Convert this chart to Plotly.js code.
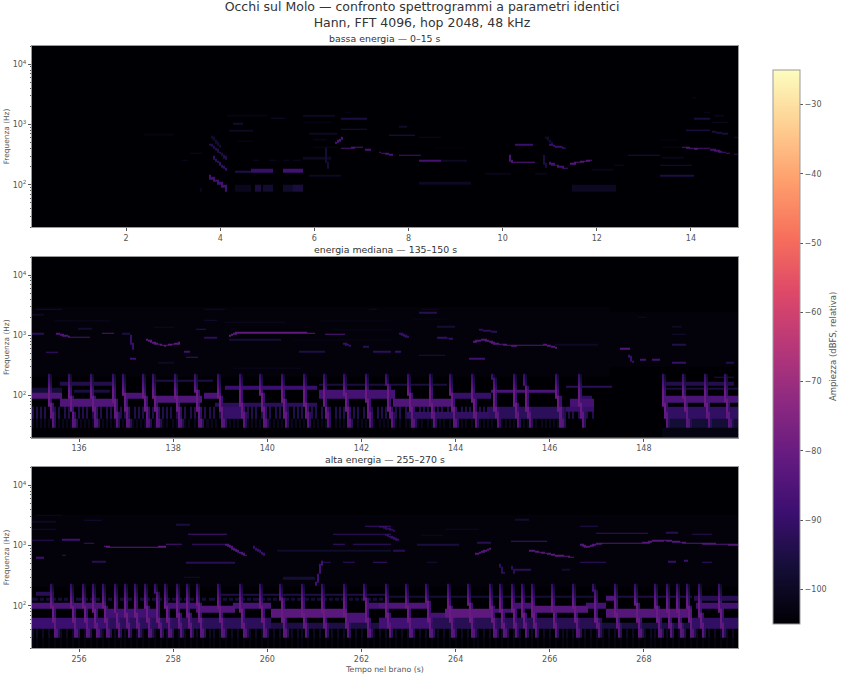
<!DOCTYPE html>
<html><head><meta charset="utf-8">
<script src="https://cdn.plot.ly/plotly-3.0.1.min.js"></script>
<style>html,body{margin:0;padding:0;background:#fff}</style></head>
<body><div id="chart" style="width:842px;height:674px"></div>
<script>
// ---- labels ----
const chartTitle = "Occhi sul Molo — confronto spettrogrammi a parametri identici<br>Hann, FFT 4096, hop 2048, 48 kHz";
const panelTitles = ["bassa energia — 0–15 s", "energia mediana — 135–150 s", "alta energia — 255–270 s"];
const xRanges = [[0,15],[135,150],[255,270]];
const xTicks = [[2,4,6,8,10,12,14],[136,138,140,142,144,146,148],[256,258,260,262,264,266,268]];
const yTickVals = [100,1000,10000];
const yTickText = ["10<sup>2</sup>","10<sup>3</sup>","10<sup>4</sup>"];
const dbTicks = [-100,-90,-80,-70,-60,-50,-40,-30];

// ---- ridges are [dB, t,f, t,f, ...]; bands are [dB, t0, t1, f, f, ...]; washes are [dB, t0, t1, fLow, fHigh] ----
const lowRidges = [
 [-88,3.76,137,4.13,86],[-91,3.85,285,4.13,172],[-94,3.78,475,4.13,268],[-98,3.8,640,4.0,420],
 [-97,6.25,390,6.27,185],
 [-86,6.47,505,6.6,595],[-85,6.6,402,7.03,418],[-86,7.1,385,7.2,385],[-86,7.39,345,7.67,305],[-87,7.81,305,8.24,305],
 [-87,8.24,252,8.67,252],[-100,8.67,252,9.23,252],
 [-86,10.15,305,10.2,230],[-83,10.2,230,10.68,230],[-89,10.3,465,10.65,465],[-89,11.0,465,11.3,408],[-87,11.0,228,11.35,184],
 [-84,11.46,222,11.85,258],[-85,13.84,418,14.12,395],[-86,14.12,405,14.4,405],[-87,14.44,385,14.79,335],[-93,14.93,315,15,315],
 [-96,14.47,760,14.75,695],[-96,10.88,300,10.92,200],[-98,10.95,600,11.05,500]
];
const lowBands = [
 [-94,4.34,4.62,164],[-90,4.66,4.84,164,176],[-90,4.87,5.08,164,176],[-88,5.33,5.72,164,176],
 [-101,4.34,4.62,82,94],[-96,4.74,4.84,82,94],[-98,4.92,5.08,82,94],[-99,5.35,5.5,82,94],[-96,5.58,5.72,82,94],
 [-103,4.16,4.98,1400],[-99,5.08,5.33,1275],[-98,4.27,4.45,1040],[-100,4.2,4.66,790],[-102,4.38,4.66,520],
 [-100,5.76,6.4,1400],[-102,5.76,6.32,1090],[-100,5.9,6.47,695],[-103,5.97,6.25,560],[-102,6,6.47,420],[-100,5.76,6.32,275],[-100,5.9,6.54,141],
 [-100,4.7,4.78,258],[-100,5.05,5.16,258],[-100,5.33,5.45,258],[-100,5.55,5.7,258],
 [-96,6.6,7.1,840],[-95,6.6,7.1,1230],[-102,6.65,6.75,1590],[-94,7.6,8.1,655],[-99,7.8,7.95,915],
 [-100,8.24,8.67,610],[-104,8.6,9.2,410],[-100,8.24,9.3,105],
 [-102,9.66,10.15,152],[-102,10.7,10.95,152],[-100,11.5,12.4,82,94],[-95,12.67,13.3,305],[-100,12.4,12.57,211],[-102,11.93,12.35,176],
 [-95,13.34,14.05,141],[-97,13.34,13.98,211],[-102,13.4,13.84,281],[-102,13.4,13.9,420],[-103,13.34,13.7,550],
 [-93,13.9,14.4,808],[-96,14.1,14.4,1230],[-101,14.3,14.4,1590],[-102,14.5,14.68,1400],[-100,14.47,14.75,1090],[-103,14.02,14.08,2800],[-98,14.93,15,610],
 [-102,2.35,2.5,340],[-103,2.4,3.0,680],[-101,3.2,3.3,260],[-100,3.4,3.6,335],[-101,3.6,3.62,85]
];
const lowWashes = [];
const midRidges = [
 [-85,135.55,1050,135.8,950],[-86,135.8,930,136.22,930],[-85,136.5,1085,136.72,1085],[-92,135,1055,135.23,1055],
 [-83,137.45,840,137.64,720,137.85,675,138.14,740],[-82,139.2,990,139.34,1095,140.33,1105,140.97,1085],
 [-84,141.25,1030,141.64,1030],[-90,141.64,720,141.75,675],
 [-84,144.38,770,144.6,850,144.88,720,145.23,675,145.94,695,146.15,620],
 [-90,142.83,1055,143,930],[-90,143.61,930,143.92,875],[-92,144.53,1235,144.88,1130],
 [-90,147.68,465,147.75,360],[-90,137.1,1000,137.15,600]
];
const midBands = [
 [-88,135.34,135.52,520],[-88,137.1,137.2,406],[-88,138.24,138.35,525],[-88,138.3,138.5,423],[-92,138.5,138.67,1250],[-98,138.7,138.9,1780],[-92,138.7,138.9,905],
 [-98,136.0,136.25,1270],[-95,136.95,137.05,1050],[-95,140.7,141.18,525],[-97,139.2,140.26,840],[-100,139.1,140.33,1640],[-101,139.27,140.7,280],
 [-98,135.1,135.6,2740],[-100,135,135.23,2200],[-102,135.5,136.65,1750],[-100,137.64,138,1360],[-99,138.7,139.05,2740],[-99,142.2,142.3,2740],
 [-92,142.25,142.6,525],[-92,142.05,142.15,640],[-100,137.7,138,345],[-103,140.55,142.6,840],[-103,141.1,142.6,1750],[-103,141.4,142.6,1230],
 [-93,143.25,143.6,2350],[-100,143.3,143.65,2740],[-102,143.1,143.8,1860],[-97,143.64,143.99,1390],
 [-100,146.15,147,695],[-84,147.5,147.68,600],[-87,147.92,148.03,393],[-87,148.2,148.33,393],[-90,148.6,148.85,350],[-94,149.77,149.9,350],
 [-94,148.6,148.85,695],[-98,148.6,148.85,1030],[-100,148.6,148.8,1390],[-88,144.31,144.6,408],[-95,143.25,143.75,465],[-92,142.47,142.6,525],[-90,142.74,142.8,525],[-100,147.9,148,2000],
 // bass bands
 [-85,135,135.6,94,105],[-85,135.6,136.72,70,82],[-94,135.6,136.72,152,164],[-96,135.9,136.65,117],[-97,135,135.6,117,129],
 [-86,137,137.4,94,105],[-85,137.64,138.6,82,94],[-86,138.7,139,94,105],[-89,139.13,141.05,129,141],[-92,138.92,141.05,70],[-95,137.65,138.8,176],
 [-87,141.1,142.7,94,105,117],[-96,141.1,143.8,152],[-85,142.7,143.9,70,82],[-90,144,144.75,94,105],[-86,144.8,146.15,117],
 [-92,146.37,147.3,141],[-87,146.45,146.9,70,82],[-92,146.6,146.85,94],[-90,146.37,146.9,58],
 [-86,148.46,150,82,94],[-94,148.4,149.9,152,164],[-94,149.5,149.9,199],[-96,148.4,150,129],
 [-94,135,146.9,47,58],[-101,135,146.2,35],[-91,148.5,150,47,58],[-97,148.5,150,35],[-103,148.4,150,23],
 [-90,139.1,139.5,47,58],[-91,143,144.7,47],[-92,144.7,146.2,47,58]
];
const midWashes = [[-104,135,147.3,200,3000],[-104,147.3,150,300,2500]];
const midKicks = [135.35,135.79,136.26,136.72,136.95,137.37,137.58,138.05,138.49,138.95,139.40,139.85,140.30,140.76,141.18,141.64,142.09,142.54,143.0,143.45,143.9,144.35,144.8,145.23,145.48,146.15,146.6,148.39,148.83,149.28,149.72];
const highRidges = [
 [-82,256.56,980,256.65,930,257.85,940],[-85,259.13,1045,259.27,885,259.52,690],[-90,259.7,940,259.94,690],
 [-88,261.04,220,261.15,535],[-92,262.4,2070,262.68,1780],[-90,262.54,1480,262.76,1250],
 [-84,264.45,725,264.74,880],[-84,265.59,830,266.01,725],[-83,266.05,705,266.47,640],
 [-84,266.65,1030,266.8,940,267.0,1070,268.07,1110,268.2,1200,268.49,1213,268.92,1093,270,1030],
 [-92,264.95,480,265.02,350],[-92,265.2,450,265.26,350]
];
const highBands = [
 [-92,255,255.45,1215],[-88,255.66,256,1250],[-88,256.12,256.3,1100],[-86,257.89,258.17,1045],[-88,258.42,259.13,1045],[-86,258.35,259.13,1550],
 [-88,261.4,261.64,1045],[-90,261.82,262.6,1050],[-91,261.43,262.6,1550],[-89,262.1,262.6,2070],[-88,255.1,255.23,620],[-90,255.65,255.7,690],
 [-93,256.3,256.55,535],[-93,258.3,259.27,515],[-92,261.15,261.33,520],[-91,261.61,261.86,520],[-88,262.25,262.54,520],[-97,260.33,261,285],
 [-100,255.1,255.6,3150],[-100,255,255.5,2500],[-98,255,255.5,1850],[-98,256.15,256.45,2600],[-96,258.07,258.35,2200],[-99,260.2,262.6,830],[-98,258.25,258.55,290],
 [-93,262.7,262.9,830],[-96,263.2,264.05,1030],[-93,264.5,264.74,1110],[-87,265.2,265.94,1180],[-90,267,268.07,1600],[-93,268.49,268.7,1620],[-93,269.06,269.41,1550],
 [-94,266.65,267,2070],[-98,265.3,265.55,2700],[-92,265.23,265.6,388],[-90,266.65,267.15,520],[-90,268.55,268.65,540],[-88,268.87,268.92,565],[-90,269.24,269.41,520],
 [-98,266.25,266.4,390],[-100,263.3,263.7,1480],[-97,263.4,263.6,520],[-100,263.8,264.5,1840],
 // bass bands
 [-86,255,256.54,94,105],[-88,256.6,257.6,70,82],[-87,257.85,258.5,94,105],[-85,258.5,259.27,82,94],[-86,259.27,260.05,94,105],[-83,260.08,261.68,70,82],[-86,261.7,262.1,58,70],[-87,262.1,262.6,94,105],
 [-85,262.4,263.4,94,105],[-87,263.4,263.82,70],[-82,263.82,264.74,70,82],[-87,264.74,265.2,82],[-87,265.2,265.66,94,105],[-84,265.66,266.8,82,94],[-87,266.8,267.15,94,105],[-85,267.2,267.35,129,141],[-84,267.2,269,70,82],[-87,269.13,270,94,105],
 [-89,255,256.55,47,58],[-92,256.55,260.05,47,58],[-95,260.08,262.6,47],[-88,262.4,263.45,47,58],[-93,263.45,267.1,47,58],[-96,267.1,269,47],[-91,269.1,270,47,58],
 [-100,255,270,35],[-103,255,270,23],
 [-93,255.1,255.45,152,164],[-95,259,262.5,152],[-97,255,262.5,129],[-97,262.5,267,141],[-95,267.35,269,141],[-93,269.1,270,129,141]
];
const highWashes = [[-104,255,270,200,3200]];
const highKicks = [255.41,255.84,256.09,256.30,256.52,256.76,256.97,257.18,257.41,257.64,257.84,258.07,258.29,258.53,258.95,259.41,259.84,260.28,260.72,261.15,261.61,262.07,262.51,262.95,263.39,263.85,264.28,264.74,264.95,265.2,265.41,265.62,266.05,266.49,266.93,267.36,267.82,268.24,268.48,268.7,268.92,269.16,269.59];
// shape of one kick, as seen in the crops: seconds after onset, Hz, dB
const kickOffsets = [0,0.005,0.04,0.11];
const kickFreqs = [220,110,65,33];
const kickLevels = [-91,-80,-80,-85];
const floorDb = -105;

// ---- grid ----
const hop = 2048/48000, binHz = 48000/4096;
const centres = [];
for (let f = binHz; f < 21000; ) { centres.push(f); f = Math.max(f+binHz, f*1.015); }
const edges = [centres[0]/2];
for (let i=0;i<centres.length-1;i++) edges.push((centres[i]+centres[i+1])/2);
edges.push(centres[centres.length-1]*1.01);
const logC = centres.map(Math.log10);
function nearestRow(f){ const l=Math.log10(f); let b=0,d=1e9; for(let i=0;i<logC.length;i++){const e=Math.abs(logC[i]-l); if(e<d){d=e;b=i;}} return b; }

function build(range, ridges, bands, washes, kicks){
  const n = Math.round((range[1]-range[0])/hop);
  const xs = []; for(let i=0;i<=n;i++) xs.push(range[0]+i*(range[1]-range[0])/n);
  const z = centres.map(()=>new Array(n).fill(floorDb));
  const dt=(range[1]-range[0])/n;
  const set=(r,c,db)=>{ if(r>=0&&r<z.length&&c>=0&&c<n&&z[r][c]<db) z[r][c]=db; };
  const put=(t,f,db,kick)=>{ const c=Math.floor((t-range[0])/dt); const r=nearestRow(f); set(r,c,db);
    if(f>150&&!kick){ const l=Math.log10(f); for(let k=r-4;k<=r+4;k++){ if(k>=0&&k<z.length&&Math.abs(logC[k]-l)<0.013) set(k,c,db); } }
    if(kick){ set(r,c+1,db-9); } };
  const seg=(t0,f0,t1,f1,d0,d1,kick)=>{ const s=120; for(let i=0;i<=s;i++){const u=i/s; put(t0+(t1-t0)*u, Math.pow(10,Math.log10(f0)+(Math.log10(f1)-Math.log10(f0))*u), d0+(d1-d0)*u, kick);} };
  washes.forEach(w=>{ const c0=Math.floor((w[1]-range[0])/dt), c1=Math.floor((w[2]-range[0])/dt); centres.forEach((f,r)=>{ if(f>=w[3]&&f<=w[4]) for(let c=c0;c<c1;c++) set(r,c,w[0]); }); });
  bands.forEach(b=>{ const [db,t0,t1,...fs]=b; fs.forEach(f=>seg(t0,f,t1,f,db,db)); });
  ridges.forEach(r=>{ for(let i=1;i+3<r.length;i+=2) seg(r[i],r[i+1],r[i+2],r[i+3],r[0],r[0]); });
  kicks.forEach(t=>{ for(let i=0;i+1<kickOffsets.length;i++) seg(t+kickOffsets[i],kickFreqs[i],t+kickOffsets[i+1],kickFreqs[i+1],kickLevels[i],kickLevels[i+1],true); });
  return {xs,z};
}

const magma=[[0,"#000004"],[0.1,"#140e36"],[0.2,"#3b0f70"],[0.3,"#641a80"],[0.4,"#8c2981"],[0.5,"#b73779"],[0.6,"#de4968"],[0.7,"#f7705c"],[0.8,"#fe9f6d"],[0.9,"#fecf92"],[1,"#fcfdbf"]];
const W=842,H=674, ink="#555", edge="#999", face="DejaVu Sans, sans-serif", tickPx=8;
const panelsPx=[[46,227],[257,437.5],[467,648]];
const datasets=[[lowRidges,lowBands,lowWashes,[]],[midRidges,midBands,midWashes,midKicks],[highRidges,highBands,highWashes,highKicks]];
const minorY=[]; [10,100,1000,10000].forEach(d=>[2,3,4,5,6,7,8,9].forEach(m=>{const v=d*m; if(v>=20&&v<=20000) minorY.push(v);}));

const traces=[]; const layout={
  width:W,height:H,margin:{l:0,r:0,t:0,b:0},paper_bgcolor:"#fff",plot_bgcolor:"#000004",showlegend:false,
  font:{family:face,color:ink,size:tickPx},
  title:{text:chartTitle,x:422/W,xanchor:"center",yref:"paper",y:1-11/H,yanchor:"bottom",font:{family:face,size:12.5,color:"#333"}},
  coloraxis:{cmin:-105,cmax:-25,colorscale:magma,colorbar:{
    x:773/W,xanchor:"left",y:1-70/H,yanchor:"top",len:554/H,lenmode:"fraction",thickness:27,thicknessmode:"pixels",
    xpad:0,ypad:0,outlinecolor:edge,outlinewidth:1,tickmode:"array",tickvals:dbTicks,ticks:"outside",ticklen:3,tickcolor:ink,
    tickfont:{family:face,size:tickPx,color:ink}}},
  annotations:[{text:"Ampiezza (dBFS, relativa)",xref:"paper",yref:"paper",x:833/W,y:1-347/H,xanchor:"center",yanchor:"middle",textangle:-90,showarrow:false,font:{family:face,size:8.5,color:ink}}]
};
datasets.forEach((d,i)=>{
  const g=build(xRanges[i],d[0],d[1],d[2],d[3]); const s=i?String(i+1):"";
  traces.push({type:"heatmap",x:g.xs,y:edges,z:g.z,coloraxis:"coloraxis",xaxis:"x"+s,yaxis:"y"+s,hoverinfo:"skip",zsmooth:false});
  const [top,bot]=panelsPx[i];
  layout["xaxis"+s]={domain:[32/W,738/W],range:xRanges[i],anchor:"y"+s,tickmode:"array",tickvals:xTicks[i],ticks:"outside",ticklen:3,tickcolor:ink,
    showgrid:false,zeroline:false,showline:true,linecolor:edge,linewidth:1,mirror:true,tickfont:{family:face,size:tickPx,color:ink},
    title:i==2?{text:"Tempo nel brano (s)",font:{family:face,size:7.8,color:ink},standoff:3}:undefined};
  layout["yaxis"+s]={domain:[1-bot/H,1-top/H],type:"log",range:[Math.log10(20),Math.log10(20000)],anchor:"x"+s,tickmode:"array",tickvals:yTickVals,ticktext:yTickText,ticks:"outside",ticklen:3,tickcolor:ink,
    minor:{tickmode:"array",tickvals:minorY,ticks:"outside",ticklen:1.5,tickcolor:ink,showgrid:false},
    showgrid:false,zeroline:false,showline:true,linecolor:edge,linewidth:1,mirror:true,tickfont:{family:face,size:tickPx,color:ink},
    title:{text:"Frequenza (Hz)",font:{family:face,size:7.4,color:ink},standoff:2}};
  layout.annotations.push({text:panelTitles[i],xref:"paper",yref:"paper",x:385/W,y:1-(top-2)/H,xanchor:"center",yanchor:"bottom",yshift:-2,showarrow:false,font:{family:face,size:9.4,color:"#333"}});
});
Plotly.newPlot("chart",traces,layout,{displayModeBar:false,responsive:false,staticPlot:true});
</script></body></html>
